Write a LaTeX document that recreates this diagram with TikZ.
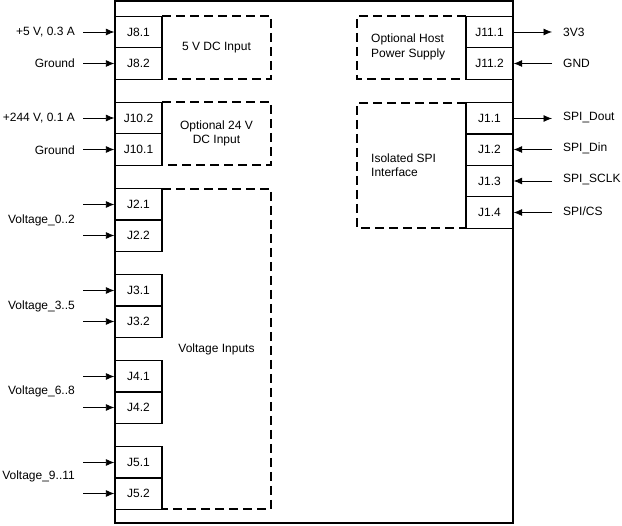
\documentclass[tikz,border=0pt]{standalone}
\usepackage{fontspec}
\setmainfont{Liberation Sans}
\usetikzlibrary{arrows.meta}
\tikzset{
  conn/.style={draw, line width=1.3pt, minimum width=47pt, minimum height=31.5pt, inner sep=0pt, font=\fontsize{12}{14.5}\selectfont},
  group/.style={inner sep=0pt, outer sep=0pt, align=center, font=\fontsize{12}{14.5}\selectfont},
  dashline/.style={line width=1.6pt, dash pattern=on 9pt off 5pt},
  lbl/.style={inner sep=0pt, font=\fontsize{12}{14.5}\selectfont},
  sig/.style={line width=0.8pt, -{Latex[length=8.5pt,width=7pt]}},
  board/.style={draw, line width=1.4pt, minimum width=398pt, minimum height=522pt, inner sep=0pt}
}
\begin{document}
\begin{tikzpicture}[x=1pt,y=-1pt]
\useasboundingbox (0,0) rectangle (622,526);
% main board
\node[board] (board) at (314,262) {};
% dashed groups
\node[group, minimum width=109pt, minimum height=63pt] (g5v) at (216.5,47.5) {5 V DC Input};
\node[group, minimum width=109pt, minimum height=63pt] (g24v) at (216.5,133.5) {Optional 24 V\\DC Input};
\node[group, minimum width=109pt, minimum height=320pt] (gvin) at (216.5,349) {Voltage Inputs};
\node[group, minimum width=109pt, minimum height=63pt] (ghost) at (411.5,47.5) {};
\node[group, minimum width=109pt, minimum height=125pt] (gspi) at (411.5,165.5) {};
\foreach \g in {g5v,g24v,gvin}{
  \draw[dashline] (\g.north west) -- (\g.north east) -- (\g.south east) -- (\g.south west);
}
\foreach \g in {ghost,gspi}{
  \draw[dashline] (\g.north east) -- (\g.north west) -- (\g.south west) -- (\g.south east);
}
\node[lbl, anchor=west, align=left] (thost) at (371,47) {Optional Host\\Power Supply};
\node[lbl, anchor=west, align=left] (tspi) at (371,165) {Isolated SPI\\Interface};
% left connectors
\node[conn] (J81) at (138.5,32) {J8.1};
\node[conn] (J82) at (138.5,63.5) {J8.2};
\node[conn] (J102) at (138.5,118) {J10.2};
\node[conn] (J101) at (138.5,149.5) {J10.1};
\node[conn] (J21) at (138.5,204.5) {J2.1};
\node[conn] (J22) at (138.5,235.5) {J2.2};
\node[conn] (J31) at (138.5,290.5) {J3.1};
\node[conn] (J32) at (138.5,321.5) {J3.2};
\node[conn] (J41) at (138.5,376.5) {J4.1};
\node[conn] (J42) at (138.5,407.5) {J4.2};
\node[conn] (J51) at (138.5,462.5) {J5.1};
\node[conn] (J52) at (138.5,493.5) {J5.2};
% right connectors
\node[conn] (J111) at (489.5,32) {J11.1};
\node[conn] (J112) at (489.5,63.5) {J11.2};
\node[conn] (J11) at (489.5,118.5) {J1.1};
\node[conn] (J12) at (489.5,149.5) {J1.2};
\node[conn] (J13) at (489.5,181) {J1.3};
\node[conn] (J14) at (489.5,212.5) {J1.4};
% left labels
\node[lbl, anchor=east] (l81) at (75,32) {+5 V, 0.3 A};
\node[lbl, anchor=east] (l82) at (75,63) {Ground};
\node[lbl, anchor=east] (l102) at (75,118) {+244 V, 0.1 A};
\node[lbl, anchor=east] (l101) at (75,150) {Ground};
\node[lbl, anchor=east] (lv2) at (75,220) {Voltage\_0..2};
\node[lbl, anchor=east] (lv3) at (75,306) {Voltage\_3..5};
\node[lbl, anchor=east] (lv4) at (75,391) {Voltage\_6..8};
\node[lbl, anchor=east] (lv5) at (75,476) {Voltage\_9..11};
% left arrows
\foreach \n in {J81,J82,J102,J101,J21,J22,J31,J32,J41,J42,J51,J52}{
  \draw[sig] (83,0 |- \n.west) -- (\n.west);
}
% right labels
\node[lbl, anchor=west] (r111) at (563,32) {3V3};
\node[lbl, anchor=west] (r112) at (563,63) {GND};
\node[lbl, anchor=west] (r11) at (563,118) {SPI\_Dout};
\node[lbl, anchor=west] (r12) at (563,148) {SPI\_Din};
\node[lbl, anchor=west] (r13) at (563,180) {SPI\_SCLK};
\node[lbl, anchor=west] (r14) at (563,211) {SPI/CS};
% right arrows
\draw[sig] (J111.east) -- (552,0 |- J111.east);
\draw[sig] (552,0 |- J112.east) -- (J112.east);
\draw[sig] (J11.east) -- (552,0 |- J11.east);
\draw[sig] (552,0 |- J12.east) -- (J12.east);
\draw[sig] (552,0 |- J13.east) -- (J13.east);
\draw[sig] (552,0 |- J14.east) -- (J14.east);
\end{tikzpicture}
\end{document}
